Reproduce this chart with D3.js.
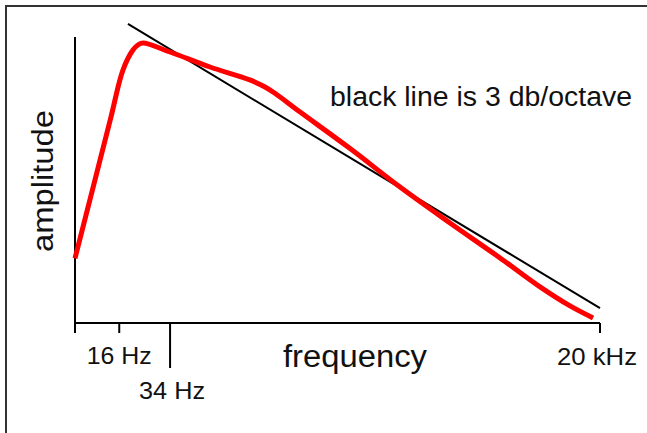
<!DOCTYPE html>
<html>
<head>
<meta charset="utf-8">
<script src="https://cdn.jsdelivr.net/npm/d3@7"></script>
<style>
  html, body { margin: 0; padding: 0; background: #fff; }
  svg { display: block; font-family: "Liberation Sans", Arial, Helvetica, sans-serif; }
</style>
</head>
<body>
<svg id="chart" width="647" height="433"></svg>
<script>
// Response curve: frequency (Hz) and amplitude (dB)
const responseFreq = [8.3, 14.0, 16.9, 19.6, 21.1, 22.8, 34, 61.5, 111, 139, 161, 234, 491, 1030, 2162, 4539, 8214, 12823, 18040];
const responseDb   = [-23.6, -8.85, -3.52, -1.39, -0.85, -0.64, -1.6, -3.2, -4.58, -5.33, -6.0, -8.0, -11.9, -16.0, -19.83, -23.56, -26.65, -28.68, -29.96];

// Reference slope line
const slopeDbPerOctave = 3;
const slopeStartFreq = 18.2;
const slopeStartDb = 1.39;
const slopeEndFreq = 20000;

// Axis ticks
const tickFreqs  = [16, 34, 20000];
const tickLabels = ["16 Hz", "34 Hz", "20 kHz"];

const freqDomain = [8.3, 20000];
const dbDomain = [-30.5, 0];

const svg = d3.select("#chart");

const x = d3.scaleLog().domain(freqDomain).range([75, 600]);
const y = d3.scaleLinear().domain(dbDomain).range([323, 37]);

// frame (top and left edges)
svg.append("path")
  .attr("d", "M6,433V6H647")
  .attr("fill", "none")
  .attr("stroke", "#333")
  .attr("stroke-width", 2);

// axes
const axisG = svg.append("g").attr("stroke", "#000").attr("stroke-width", 2).attr("fill", "none");
const x0 = x(freqDomain[0]);
axisG.append("line")
  .attr("x1", x0).attr("x2", x0)
  .attr("y1", y(dbDomain[1])).attr("y2", y(dbDomain[0]) + 10);
axisG.append("line")
  .attr("x1", x0).attr("x2", x(freqDomain[1]))
  .attr("y1", y(dbDomain[0])).attr("y2", y(dbDomain[0]));

const tickLen = [10, 45, 10];
axisG.selectAll("line.tick")
  .data(tickFreqs)
  .join("line")
  .attr("class", "tick")
  .attr("x1", d => x(d)).attr("x2", d => x(d))
  .attr("y1", y(dbDomain[0]))
  .attr("y2", (d, i) => y(dbDomain[0]) + tickLen[i]);

// tick labels
const labelBase = [41, 76, 42];
const labelDx = [0, 2, -3];
const labelWidth = [65, 66, 80];
svg.selectAll("text.ticklabel")
  .data(tickFreqs)
  .join("text")
  .attr("class", "ticklabel")
  .attr("x", (d, i) => x(d) + labelDx[i] - labelWidth[i] / 2)
  .attr("y", (d, i) => y(dbDomain[0]) + labelBase[i])
  .attr("font-size", 24)
  .attr("textLength", (d, i) => labelWidth[i])
  .attr("lengthAdjust", "spacingAndGlyphs")
  .attr("fill", "#111")
  .text((d, i) => tickLabels[i]);

// axis titles
svg.append("text")
  .attr("x", 283).attr("y", 367)
  .attr("font-size", 31)
  .attr("textLength", 144)
  .attr("lengthAdjust", "spacingAndGlyphs")
  .attr("fill", "#111")
  .text("frequency");

svg.append("text")
  .attr("transform", "translate(53,252) rotate(-90)")
  .attr("font-size", 30)
  .attr("textLength", 142)
  .attr("lengthAdjust", "spacingAndGlyphs")
  .attr("fill", "#111")
  .text("amplitude");

svg.append("text")
  .attr("x", 330).attr("y", 106)
  .attr("font-size", 27)
  .attr("textLength", 302)
  .attr("lengthAdjust", "spacingAndGlyphs")
  .attr("fill", "#111")
  .text("black line is 3 db/octave");

// reference slope line
const slopeEndDb = slopeStartDb - slopeDbPerOctave * Math.log2(slopeEndFreq / slopeStartFreq);
svg.append("line")
  .attr("x1", x(slopeStartFreq)).attr("y1", y(slopeStartDb))
  .attr("x2", x(slopeEndFreq)).attr("y2", y(slopeEndDb))
  .attr("stroke", "#000")
  .attr("stroke-width", 2);

// response curve
const line = d3.line()
  .x(d => x(d[0]))
  .y(d => y(d[1]))
  .curve(d3.curveCatmullRom.alpha(0.5));

svg.append("path")
  .datum(responseFreq.map((f, i) => [f, responseDb[i]]))
  .attr("d", line)
  .attr("fill", "none")
  .attr("stroke", "#ff0000")
  .attr("stroke-width", 5)
  .attr("stroke-linejoin", "round")
  .attr("stroke-linecap", "butt");
</script>
</body>
</html>
